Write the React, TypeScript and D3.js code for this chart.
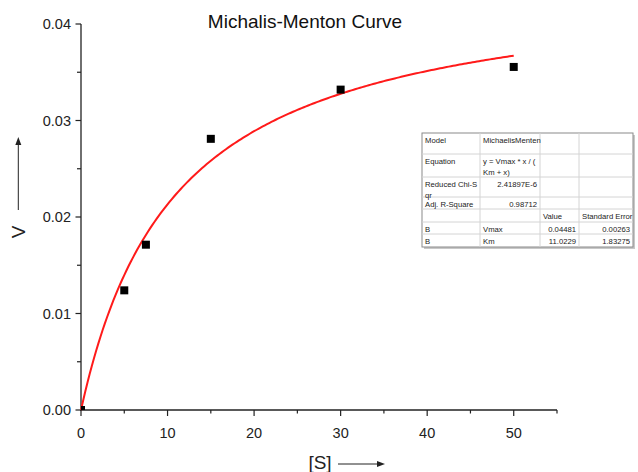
import React from "react";
import * as d3 from "d3";

// measured substrate concentration [S] and velocity V
const sValues = [0, 5, 7.5, 15, 30, 50];
const vValues = [0, 0.0124, 0.01713, 0.0281, 0.0332, 0.03555];

// fitted Michaelis-Menten params
const vmax = 0.04481;
const km = 11.0229;

const xTicks = [0, 10, 20, 30, 40, 50];
const yTicks = [0, 0.01, 0.02, 0.03, 0.04];

const tableRows = [
  ["Model", "MichaelisMenten", "", ""],
  ["Equation", "y = Vmax * x / (\nKm + x)", "", ""],
  ["Reduced Chi-S\nqr", "2.41897E-6", "", ""],
  ["Adj. R-Square", "0.98712", "", ""],
  ["", "", "Value", "Standard Error"],
  ["B", "Vmax", "0.04481", "0.00263"],
  ["B", "Km", "11.0229", "1.83275"],
];

const W = 638;
const H = 472;

export default function App() {
  const x = d3.scaleLinear().domain([0, 55]).range([81, 557]);
  const y = d3.scaleLinear().domain([0, 0.04]).range([410, 24]);

  const fitX = d3.range(0, 50.01, 0.25);
  const line = d3
    .line<number>()
    .x((d) => x(d))
    .y((d) => y((vmax * d) / (km + d)));

  const font = "'Liberation Sans', Arial, sans-serif";

  // table layout
  const colX = [422, 480, 540, 579, 633];
  const rowY = [133, 154, 177, 197, 209, 222, 234, 247];
  const rightAlign = (r: number, c: number) =>
    (c === 1 && (r === 2 || r === 3)) || (c >= 2 && r >= 5);

  return (
    <svg width={W} height={H} style={{ position: "absolute", left: 0, top: 0, background: "#fff" }} fontFamily={font}>
      <defs>
        <clipPath id="plotArea">
          <rect x={81} y={0} width={W - 81} height={410} />
        </clipPath>
      </defs>
      <rect width={W} height={H} fill="#fff" />
      <text x={305} y={28} textAnchor="middle" fontSize={19} fill="#111">
        Michalis-Menton Curve
      </text>

      {/* y axis */}
      <line x1={81} x2={81} y1={y(0.04)} y2={y(0) + 1} stroke="#222" strokeWidth={1.3} />
      {d3.range(0, 0.0401, 0.005).map((t, i) => (
        <line key={"yt" + i} x1={i % 2 === 0 ? 75.5 : 77} x2={81} y1={y(t)} y2={y(t)} stroke="#222" strokeWidth={1.2} />
      ))}
      {yTicks.map((t) => (
        <text key={"yl" + t} x={71} y={y(t) + 5} textAnchor="end" fontSize={14.5} fill="#222">
          {d3.format(".2f")(t)}
        </text>
      ))}

      {/* x axis */}
      <line x1={80.5} x2={x(55)} y1={410} y2={410} stroke="#222" strokeWidth={1.3} />
      {d3.range(0, 55.01, 5).map((t, i) => (
        <line key={"xt" + i} x1={x(t)} x2={x(t)} y1={410} y2={i % 2 === 0 ? 416 : 413.5} stroke="#222" strokeWidth={1.2} />
      ))}
      {xTicks.map((t) => (
        <text key={"xl" + t} x={x(t)} y={438} textAnchor="middle" fontSize={14.5} fill="#222">
          {t}
        </text>
      ))}

      {/* axis titles */}
      <text x={320} y={469} textAnchor="middle" fontSize={19} fill="#222">[S]</text>
      <line x1={338} x2={380} y1={464} y2={464} stroke="#222" strokeWidth={1} />
      <path d="M385,464 L377,461 L377,467 Z" fill="#222" />
      <text transform="translate(25,232) rotate(-90)" textAnchor="middle" fontSize={19} fill="#222">V</text>
      <line x1={18.3} x2={18.3} y1={210} y2={143} stroke="#222" strokeWidth={1} />
      <path d="M18.3,137 L15.3,145 L21.3,145 Z" fill="#222" />

      {/* fit curve */}
      <path d={line(fitX) || ""} fill="none" stroke="#ff1a1a" strokeWidth={2} />

      {/* data points */}
      <g clipPath="url(#plotArea)">
        {sValues.map((s, i) => (
          <rect key={"p" + i} x={x(s) - 4} y={y(vValues[i]) - 4} width={8} height={8} fill="#000" />
        ))}
      </g>

      {/* fit results table */}
      <rect x={colX[0] + 2} y={rowY[0] + 2} width={colX[4] - colX[0]} height={rowY[7] - rowY[0]} fill="#c8c8c8" />
      <rect x={colX[0]} y={rowY[0]} width={colX[4] - colX[0]} height={rowY[7] - rowY[0]} fill="#fff" stroke="#8a8a8a" strokeWidth={1} />
      {rowY.slice(1, 7).map((ry, i) => (
        <line key={"hr" + i} x1={colX[0]} x2={colX[4]} y1={ry} y2={ry} stroke="#d4d4d4" strokeWidth={1} />
      ))}
      {colX.slice(1, 4).map((cx, i) => (
        <line key={"vr" + i} x1={cx} x2={cx} y1={rowY[0]} y2={rowY[7]} stroke="#d4d4d4" strokeWidth={1} />
      ))}
      {tableRows.map((row, r) =>
        row.map((cell, c) => {
          if (!cell) return null;
          const lines = cell.split("\n");
          const ra = rightAlign(r, c);
          const tx = ra ? colX[c + 1] - 3 : colX[c] + 3;
          return (
            <text key={"c" + r + "-" + c} x={tx} y={rowY[r] + 9.5} textAnchor={ra ? "end" : "start"} fontSize={7.7} fill="#222">
              {lines.map((l, k) => (
                <tspan key={k} x={tx} dy={k === 0 ? 0 : 11}>
                  {l}
                </tspan>
              ))}
            </text>
          );
        })
      )}
    </svg>
  );
}
